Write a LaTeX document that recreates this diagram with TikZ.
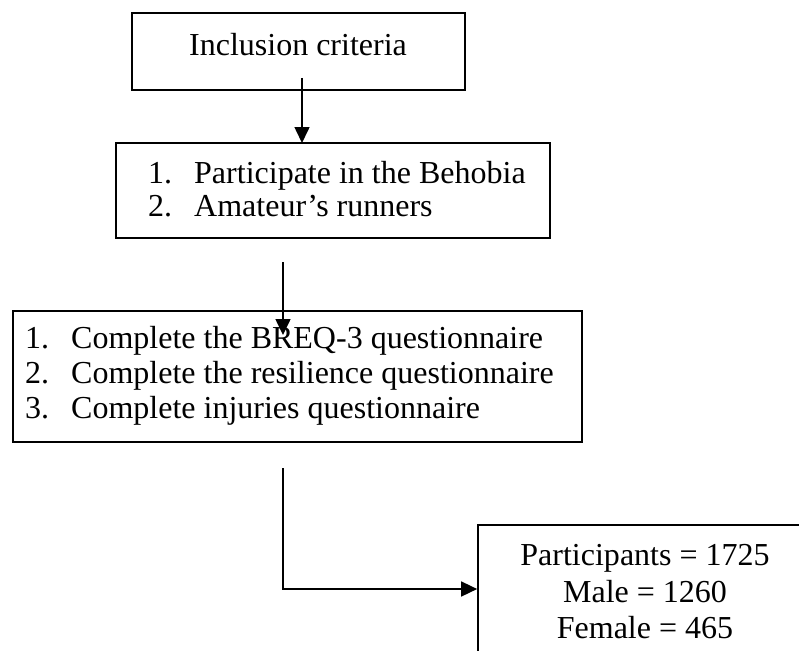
\documentclass[tikz,border=0pt]{standalone}
\usepackage{fontspec}
\setmainfont{Liberation Serif}
\usetikzlibrary{arrows.meta}
\begin{document}
\begin{tikzpicture}[x=1pt,y=-1pt,
  boxstyle/.style={draw,line width=1.7pt,rectangle,inner sep=0pt},
  txt/.style={inner sep=0pt,anchor=base west,font=\fontsize{32}{32}\selectfont},
  ctxt/.style={inner sep=0pt,anchor=base,font=\fontsize{32}{32}\selectfont},
  conn/.style={line width=1.6pt,-{Triangle[length=16pt,width=15pt]}},
]
\useasboundingbox[fill=white] (0,0) rectangle (799,650);
\clip (0,0) rectangle (799,650);
% boxes
\node[boxstyle,minimum width=333pt,minimum height=77pt] (b1) at (298.5,51.5) {};
\node[boxstyle,minimum width=434pt,minimum height=95pt] (b2) at (333,190.5) {};
\node[boxstyle,minimum width=569pt,minimum height=131pt] (b3) at (297.5,376.5) {};
\node[boxstyle,minimum width=334pt,minimum height=160pt] (b4) at (645,605) {};
% texts
\node[ctxt] (t1) at (298,56) {Inclusion criteria};
\node[txt] (n21) at (148,183) {1.};
\node[txt] (t21) at (194,183) {Participate in the Behobia};
\node[txt] (n22) at (148,216) {2.};
\node[txt] (t22) at (194,216) {Amateur’s runners};
\node[txt] (n31) at (25,348) {1.};
\node[txt] (t31) at (71,348) {Complete the BREQ-3 questionnaire};
\node[txt] (n32) at (25,383) {2.};
\node[txt] (t32) at (71,383) {Complete the resilience questionnaire};
\node[txt] (n33) at (25,418) {3.};
\node[txt] (t33) at (71,418) {Complete injuries questionnaire};
\node[ctxt] (t41) at (645,565) {Participants = 1725};
\node[ctxt] (t42) at (645,602) {Male = 1260};
\node[ctxt] (t43) at (645,638) {Female = 465};
% connectors
\coordinate (a1s) at (302,78);
\coordinate (a1e) at (302,143);
\coordinate (a2s) at (283,262);
\coordinate (a2e) at (283,335);
\coordinate (a3s) at (283,468);
\coordinate (a3c) at (283,589);
\coordinate (a3e) at (b4.west |- a3c);
\draw[conn] (a1s) -- (a1e);
\draw[conn] (a2s) -- (a2e);
\draw[conn] (a3s) -- (a3c) -- (a3e);
\end{tikzpicture}
\end{document}
